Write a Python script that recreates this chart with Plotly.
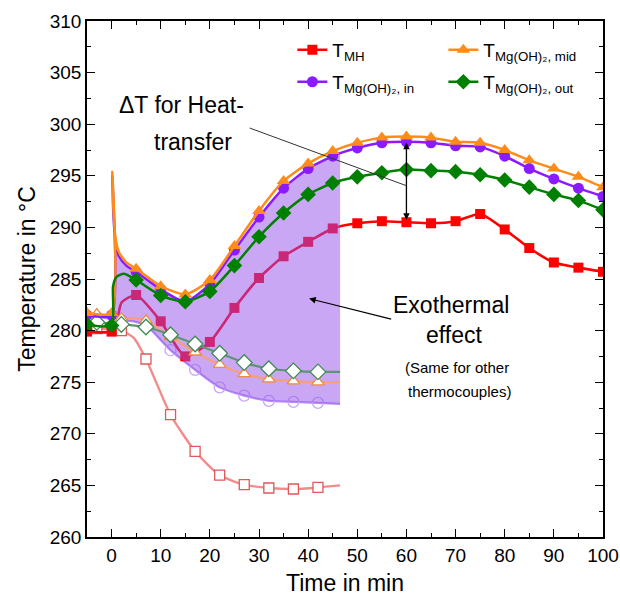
import plotly.graph_objects as go

# ---- reaction run (filled markers every 5 min) ----
t_mh = [-5, 0, 1, 2, 5, 10, 15, 20, 25, 30, 35, 40, 45, 50, 55, 60, 65, 70, 75, 80, 85, 90, 95, 100]
T_mh = [279.9, 279.9, 280.6, 282.7, 283.45, 280.9, 277.5, 278.9, 282.2, 285.1, 287.2, 288.6, 289.9,
        290.4, 290.6, 290.5, 290.4, 290.6, 291.3, 289.8, 288.0, 286.6, 286.1, 285.7]

t_mid = [-5, 0, 0.15, 0.35, 0.8, 1.5, 3, 5, 10, 15, 20, 25, 30, 35, 40, 45, 50, 55, 60, 65, 70, 75,
         80, 85, 90, 95, 100]
T_mid = [281.7, 281.7, 295.4, 292.0, 289.0, 287.6, 286.6, 286.0, 284.3, 283.5, 284.9, 288.2, 291.6,
         294.5, 296.2, 297.4, 298.2, 298.7, 298.8, 298.7, 298.3, 298.2, 297.5, 296.5, 295.7, 294.9, 293.9]

t_in = [-5, 0, 0.15, 0.35, 0.8, 1.5, 3, 5, 10, 15, 20, 25, 30, 35, 40, 45, 46.5, 50, 55, 60, 65, 70,
        75, 80, 85, 90, 95, 100]
T_in = [281.5, 281.5, 295.0, 291.5, 288.6, 287.2, 286.3, 285.7, 284.0, 282.8, 284.5, 287.8, 291.0,
        293.8, 295.7, 296.9, 297.2, 297.7, 298.2, 298.3, 298.2, 297.9, 297.8, 296.9, 295.7, 294.7,
        293.8, 293.0]

t_out = [-5, 0, 0.3, 1, 2.5, 5, 10, 15, 20, 25, 30, 35, 40, 45, 50, 55, 60, 65, 70, 75, 80, 85, 90,
         95, 100]
T_out = [280.6, 280.5, 284.3, 285.2, 285.5, 284.9, 283.4, 282.8, 283.8, 286.3, 289.1, 291.4, 293.2,
         294.3, 294.9, 295.3, 295.6, 295.5, 295.4, 295.1, 294.6, 293.9, 293.2, 292.6, 291.7]

# ---- reference run without reaction (open markers) ----
t_ref = [-5, -3, 2, 4.5, 7, 12, 17, 22, 27, 32, 37, 42, 46.5]
R_mh = [280.3, 280.2, 280.0, 279.3, 277.25, 271.85, 268.3, 266.0, 265.07, 264.75, 264.65, 264.8, 265.0]
R_mid = [281.6, 281.6, 281.2, 281.2, 281.0, 279.4, 277.9, 276.7, 275.8, 275.3, 275.1, 275.0, 275.0]
R_in = [281.3, 281.3, 281.0, 280.9, 280.5, 278.1, 276.2, 274.5, 273.7, 273.2, 273.1, 273.0, 272.9]
R_out = [280.8, 280.8, 280.6, 280.5, 280.35, 279.6, 278.7, 277.8, 276.9, 276.3, 276.1, 276.0, 276.0]

x_ticks = [0, 10, 20, 30, 40, 50, 60, 70, 80, 90, 100]
y_ticks = [260, 265, 270, 275, 280, 285, 290, 295, 300, 305, 310]

FONT = "Liberation Sans, Arial, sans-serif"
RED, ORANGE, PURPLE, GREEN = "#ff0000", "#ff8c1a", "#8c1aff", "#008000"

fig = go.Figure()


def line(t, v, color, width=2.5, opacity=1.0):
    fig.add_trace(go.Scatter(x=t, y=v, mode="lines", showlegend=False, hoverinfo="skip",
                             opacity=opacity,
                             line=dict(color=color, width=width, shape="spline", smoothing=0.6)))


def marks(t, v, keep, symbol, size, fill, edge, ew=1.5):
    xs = [a for a in t if keep(a)]
    ys = [b for a, b in zip(t, v) if keep(a)]
    fig.add_trace(go.Scatter(x=xs, y=ys, mode="markers", showlegend=False, hoverinfo="skip",
                             marker=dict(symbol=symbol, size=size, color=fill,
                                         line=dict(color=edge, width=ew))))


main_step = lambda a: a % 5 == 0
ref_step = lambda a: (a + 3) % 5 == 0

# reference "in" curve and reaction MH curve sit underneath the shaded area
line(t_ref, R_in, "#b58cf5", 2.2)
marks(t_ref, R_in, ref_step, "circle-open", 11, "#c9a8f7", "#c9a8f7", 1.3)
line(t_ref, R_mh, "#f28c8c", 2.4)
marks(t_ref, R_mh, ref_step, "square", 10, "white", "#e05858", 1.3)
line(t_mh, T_mh, RED, 2.6)
marks(t_mh, T_mh, main_step, "square", 10, RED, RED, 0)

# shaded exothermal area between reference "in" and reaction "in" curves
fig.add_trace(go.Scatter(x=t_ref, y=R_in, mode="lines", showlegend=False, hoverinfo="skip",
                         line=dict(width=0, shape="spline", smoothing=0.6)))
upper_t = [a for a in t_in if a <= 46.5]
upper_v = [b for a, b in zip(t_in, T_in) if a <= 46.5]
fig.add_trace(go.Scatter(x=upper_t, y=upper_v, mode="lines", showlegend=False, hoverinfo="skip",
                         fill="tonexty", fillcolor="rgba(150,80,235,0.5)",
                         line=dict(width=0, shape="spline", smoothing=0.6)))

# remaining reference curves
line(t_ref, R_mid, "#f5a07a", 2.2)
marks(t_ref, R_mid, ref_step, "triangle-up", 11, "white", "#f08a3c", 1.3)
line(t_ref, R_out, "#5f9472", 2.2)
marks(t_ref, R_out, ref_step, "diamond", 12, "white", "#3f8a55", 1.3)

# reaction curves
line(t_in, T_in, PURPLE)
marks(t_in, T_in, main_step, "circle", 11, PURPLE, PURPLE, 0)
line(t_mid, T_mid, ORANGE)
marks(t_mid, T_mid, main_step, "triangle-up", 12, ORANGE, ORANGE, 0)
line(t_out, T_out, GREEN)
marks(t_out, T_out, main_step, "diamond", 12, GREEN, GREEN, 0)

# legend entries (two rows of two)
entries = [
    ("T<sub>MH</sub>", RED, "square", 10, "legend"),
    ("T<sub>Mg(OH)₂, mid</sub>", ORANGE, "triangle-up", 12, "legend"),
    ("T<sub>Mg(OH)₂, in</sub>", PURPLE, "circle", 11, "legend2"),
    ("T<sub>Mg(OH)₂, out</sub>", GREEN, "diamond", 12, "legend2"),
]
for name, col, sym, sz, lg in entries:
    fig.add_trace(go.Scatter(x=[None], y=[None], mode="lines+markers", name=name, legend=lg,
                             line=dict(color=col, width=2.5),
                             marker=dict(symbol=sym, size=sz, color=col)))

legend_style = dict(orientation="h", xanchor="left", yanchor="middle", bgcolor="rgba(0,0,0,0)",
                    font=dict(family=FONT, size=19, color="black"), traceorder="normal",
                    entrywidth=106, entrywidthmode="pixels", tracegroupgap=0)
fig.update_layout(legend=dict(x=0.398, y=0.944, **legend_style),
                  legend2=dict(x=0.398, y=0.882, **legend_style))

# ΔT marker: double arrow between reaction "in" and MH curves at 60 min
t_dt = 60
y_top = T_in[t_in.index(t_dt)]
y_bot = T_mh[t_mh.index(t_dt)]
fig.add_annotation(x=t_dt, y=y_top - 0.1, ax=t_dt, ay=y_bot + 0.1, xref="x", yref="y",
                   axref="x", ayref="y", text="", showarrow=True, arrowhead=2,
                   arrowside="end+start", arrowsize=1, arrowwidth=1.3, arrowcolor="black")
fig.add_shape(type="line", x0=28.1, y0=299.63, x1=t_dt, y1=294.04, xref="x", yref="y",
              line=dict(color="#333333", width=1))

fig.add_annotation(x=14.3, y=301.9, text="ΔT for Heat-", showarrow=False,
                   font=dict(family=FONT, size=23, color="black"))
fig.add_annotation(x=16.6, y=298.24, text="transfer", showarrow=False,
                   font=dict(family=FONT, size=23, color="black"))

# exothermal effect label with arrow into the shaded area
fig.add_annotation(x=40.2, y=283.1, ax=57.2, ay=281.07, xref="x", yref="y", axref="x", ayref="y",
                   text="", showarrow=True, arrowhead=2, arrowsize=1.1, arrowwidth=1.2,
                   arrowcolor="black")
fig.add_annotation(x=69.1, y=282.5, text="Exothermal", showarrow=False,
                   font=dict(family=FONT, size=23, color="black"))
fig.add_annotation(x=69.6, y=279.6, text="effect", showarrow=False,
                   font=dict(family=FONT, size=23, color="black"))
fig.add_annotation(x=70.2, y=276.4, text="(Same for other", showarrow=False,
                   font=dict(family=FONT, size=15, color="black"))
fig.add_annotation(x=70.8, y=274.1, text="thermocouples)", showarrow=False,
                   font=dict(family=FONT, size=15, color="black"))

axis_common = dict(showline=True, linecolor="black", linewidth=1.5, mirror="allticks",
                   ticks="inside", ticklen=8, tickwidth=1.3, tickcolor="black",
                   showgrid=False, zeroline=False,
                   tickfont=dict(family=FONT, size=19, color="black"),
                   minor=dict(ticks="inside", ticklen=4, tickwidth=1.2, tickcolor="black"))

fig.update_xaxes(range=[-5, 100], tickvals=x_ticks, ticktext=[str(v) for v in x_ticks],
                 minor_dtick=5, minor_tick0=0,
                 title=dict(text="Time in min", standoff=10,
                            font=dict(family=FONT, size=23, color="black")),
                 **axis_common)
fig.update_yaxes(range=[260, 310], tickvals=y_ticks, ticktext=[str(v) for v in y_ticks],
                 minor_dtick=2.5, minor_tick0=260,
                 title=dict(text="Temperature in °C", standoff=8,
                            font=dict(family=FONT, size=23, color="black")),
                 **axis_common)

fig.update_layout(width=620, height=602, plot_bgcolor="white", paper_bgcolor="white",
                  margin=dict(l=87, r=17, t=21, b=65, autoexpand=False),
                  font=dict(family=FONT, color="black"), showlegend=True)

fig.write_html("out.html")
